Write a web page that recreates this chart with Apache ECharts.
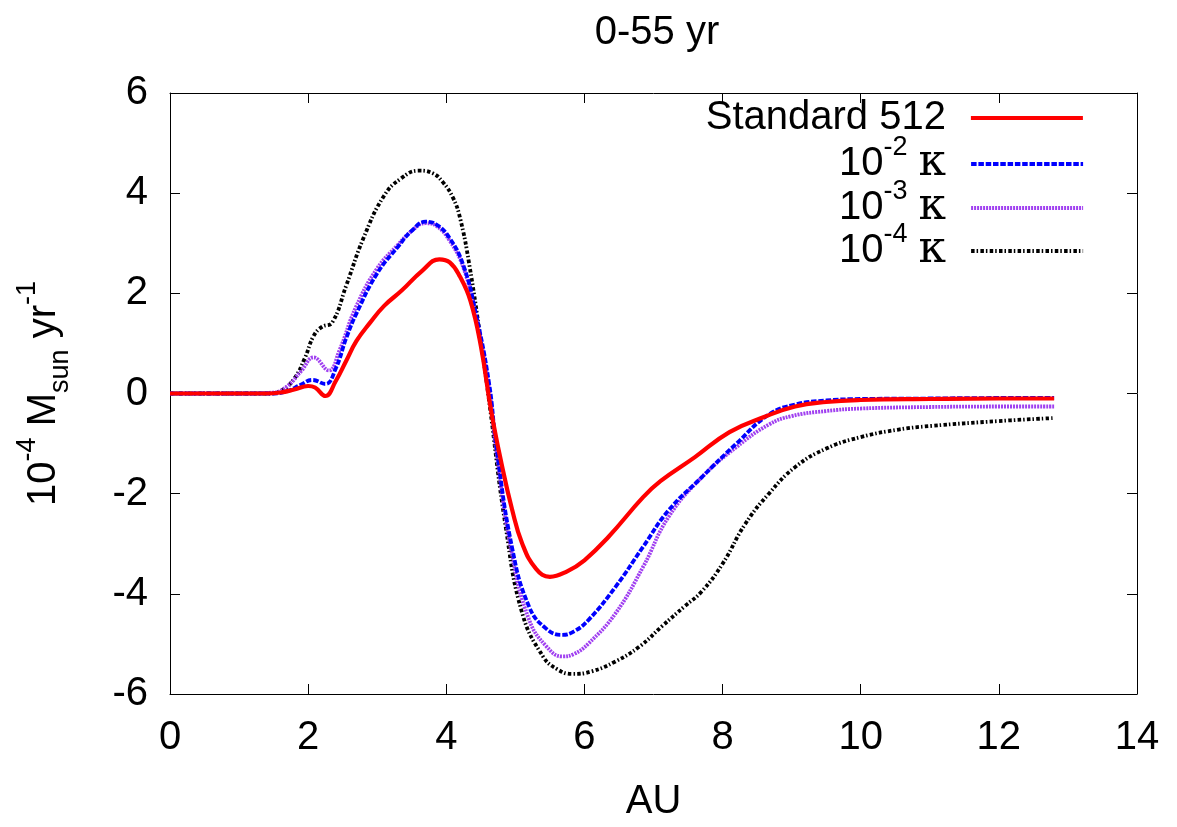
<!DOCTYPE html>
<html><head><meta charset="utf-8">
<script src="https://cdn.jsdelivr.net/npm/echarts@6/dist/echarts.min.js"></script>
<style>html,body{margin:0;padding:0;background:#fff}#c{width:1177px;height:827px}</style>
</head><body><div id="c"></div>
<script>
// ---- data ----
var xTicks = [0, 2, 4, 6, 8, 10, 12, 14];
var yTicks = [-6, -4, -2, 0, 2, 4, 6];
var seriesNames = ['Standard 512', '10^-2 κ', '10^-3 κ', '10^-4 κ'];

var xStd = [0, 0.5, 1.0, 1.4, 1.6, 1.8, 2.0, 2.1, 2.25, 2.4, 2.55, 2.7, 2.9, 3.1, 3.35, 3.65, 3.9, 4.05, 4.2, 4.35, 4.5, 4.65, 4.8, 4.95, 5.1, 5.3, 5.5, 5.75, 6.0, 6.35, 6.85, 7.1, 7.6, 8.1, 8.6, 9.05, 9.5, 10, 11, 12, 12.8];
var yStd = [0, 0, 0, 0, 0.02, 0.08, 0.15, 0.12, -0.05, 0.25, 0.65, 1.05, 1.42, 1.75, 2.05, 2.45, 2.68, 2.62, 2.33, 1.85, 0.95, -0.35, -1.4, -2.3, -3.0, -3.5, -3.66, -3.55, -3.33, -2.86, -2.07, -1.75, -1.27, -0.77, -0.47, -0.26, -0.17, -0.13, -0.11, -0.1, -0.1];

var xK2 = [0, 1.0, 1.5, 1.7, 1.9, 2.06, 2.25, 2.4, 2.55, 2.7, 3.0, 3.3, 3.5, 3.7, 3.85, 4.05, 4.25, 4.42, 4.62, 4.72, 4.95, 5.2, 5.45, 5.68, 5.85, 6.06, 6.45, 6.85, 7.22, 7.7, 8.2, 8.67, 9.05, 9.5, 10, 11, 12, 12.8];
var yK2 = [0, 0, 0, 0.05, 0.18, 0.27, 0.19, 0.5, 1.1, 1.6, 2.4, 2.93, 3.25, 3.43, 3.38, 3.1, 2.55, 1.65, 0.2, -1.0, -3.06, -4.26, -4.7, -4.82, -4.75, -4.52, -3.86, -3.06, -2.33, -1.67, -1.0, -0.42, -0.22, -0.14, -0.11, -0.1, -0.09, -0.09];

var xK3 = [0, 1.0, 1.5, 1.7, 1.9, 2.08, 2.3, 2.45, 2.69, 3.0, 3.3, 3.5, 3.7, 3.85, 4.05, 4.25, 4.42, 4.62, 4.72, 4.95, 5.2, 5.45, 5.68, 5.85, 6.06, 6.45, 6.85, 7.22, 7.7, 8.2, 8.67, 9.0, 9.5, 10, 11, 12, 12.8];
var yK3 = [0, 0, 0.02, 0.15, 0.45, 0.72, 0.46, 0.85, 1.72, 2.5, 2.97, 3.25, 3.4, 3.35, 3.05, 2.5, 1.6, 0.1, -1.1, -3.2, -4.52, -5.05, -5.25, -5.2, -4.99, -4.39, -3.46, -2.46, -1.67, -1.07, -0.62, -0.45, -0.35, -0.3, -0.27, -0.26, -0.26];

var xK4 = [0, 1.0, 1.4, 1.6, 1.8, 1.95, 2.08, 2.2, 2.35, 2.55, 2.8, 3.1, 3.35, 3.6, 3.8, 3.95, 4.1, 4.2, 4.33, 4.52, 4.62, 4.86, 5.1, 5.4, 5.6, 5.82, 6.1, 6.45, 6.8, 7.12, 7.45, 7.7, 8.0, 8.33, 8.67, 9.05, 9.5, 10, 10.55, 11, 12, 12.8];
var yK4 = [0, 0, 0, 0.05, 0.3, 0.7, 1.15, 1.33, 1.42, 2.15, 3.1, 3.95, 4.3, 4.45, 4.4, 4.22, 3.9, 3.5, 2.6, 0.86, -0.15, -2.66, -4.39, -5.25, -5.5, -5.6, -5.55, -5.35, -5.05, -4.65, -4.25, -3.95, -3.4, -2.6, -2.0, -1.47, -1.1, -0.87, -0.72, -0.65, -0.55, -0.49];

function zip(xs, ys) { return xs.map(function (x, i) { return [x, ys[i]]; }); }

var FONT = 'Liberation Sans';
var FS = 40;
var colors = ['#ff0000', '#0000ff', '#a040f0', '#000000'];
var widths = [4.2, 3.8, 3.8, 3.8];
var dashes = ['solid', [5.5, 1.8], [2, 1], [3.5, 2, 1.5, 2.3]];
var chart = echarts.init(document.getElementById('c'), null, { renderer: 'canvas' });

var legendRich = {
  t: { fontSize: FS, fontFamily: FONT, color: '#000', lineHeight: 60 },
  s: { fontSize: 27, fontFamily: FONT, color: '#000', verticalAlign: 'top', lineHeight: 26 },
  k: { fontSize: FS + 4, fontFamily: 'DejaVu Serif', color: '#000', lineHeight: 60 }
};
function legendText(name) {
  if (name === 'Standard 512') return '{t|Standard 512}';
  var m = name.match(/10\^(-\d) κ/);
  return '{t|10}{s|' + m[1] + '}{t| }{k|κ}';
}
var legendTops = [94, 134, 178, 221];
var legends = seriesNames.map(function (n, i) {
  return {
    data: [n], right: 92, top: legendTops[i], orient: 'horizontal', align: 'right',
    itemWidth: 112, itemHeight: 60, selectedMode: false, padding: 0,
    itemStyle: { color: 'rgba(0,0,0,0)', borderWidth: 0, opacity: 0 },
    lineStyle: { color: colors[i], width: widths[i], type: dashes[i], opacity: 1 },
    formatter: legendText,
    textStyle: { fontSize: FS, fontFamily: FONT, color: '#000', rich: legendRich, padding: [0, 20, 0, 0] }
  };
});

var axisCommon = {
  type: 'value', min: 0, max: 14, interval: 2,
  axisLine: { show: true, onZero: false, lineStyle: { color: '#000', width: 1 } },
  axisTick: { show: true, inside: true, length: 10, lineStyle: { color: '#000', width: 1 } },
  splitLine: { show: false }
};

function mkSeries(i, xs, ys, z) {
  return { name: seriesNames[i], type: 'line', data: zip(xs, ys), smooth: 0.45, symbol: 'none',
    lineStyle: { color: colors[i], width: widths[i], type: dashes[i] }, itemStyle: { color: colors[i] }, z: z };
}

chart.setOption({
  animation: false,
  backgroundColor: '#fff',
  title: {
    text: '0-55 yr', left: 652, top: 8, textAlign: 'center',
    textStyle: { fontSize: FS, fontFamily: FONT, fontWeight: 'normal', color: '#000' }
  },
  legend: legends,
  grid: { left: 170, right: 40, top: 93, bottom: 132 },
  xAxis: [
    Object.assign({}, axisCommon, {
      position: 'bottom', name: 'AU', nameLocation: 'middle', nameGap: 88,
      nameTextStyle: { fontSize: FS, fontFamily: FONT, color: '#000' },
      axisLabel: { fontSize: FS, fontFamily: FONT, color: '#000', margin: 24 }
    }),
    Object.assign({}, axisCommon, { position: 'top', axisLabel: { show: false } })
  ],
  yAxis: [
    Object.assign({}, axisCommon, {
      min: -6, max: 6, interval: 2, position: 'left',
      name: '{t|10}{s|-4}{t| M}{b|sun}{t| yr}{s|-1}', nameLocation: 'middle', nameGap: 96, nameRotate: 90,
      nameTextStyle: {
        fontSize: FS, fontFamily: FONT, color: '#000',
        rich: {
          t: { fontSize: FS, fontFamily: FONT, color: '#000', lineHeight: 60 },
          s: { fontSize: 27, fontFamily: FONT, color: '#000', verticalAlign: 'top', lineHeight: 26 },
          b: { fontSize: 27, fontFamily: FONT, color: '#000', verticalAlign: 'bottom', lineHeight: 30 }
        }
      },
      axisLabel: { fontSize: FS, fontFamily: FONT, color: '#000', margin: 22 }
    }),
    Object.assign({}, axisCommon, { min: -6, max: 6, interval: 2, position: 'right', axisLabel: { show: false } })
  ],
  series: [
    mkSeries(0, xStd, yStd, 5),
    mkSeries(1, xK2, yK2, 4),
    mkSeries(2, xK3, yK3, 3),
    mkSeries(3, xK4, yK4, 2)
  ]
});
</script></body></html>
